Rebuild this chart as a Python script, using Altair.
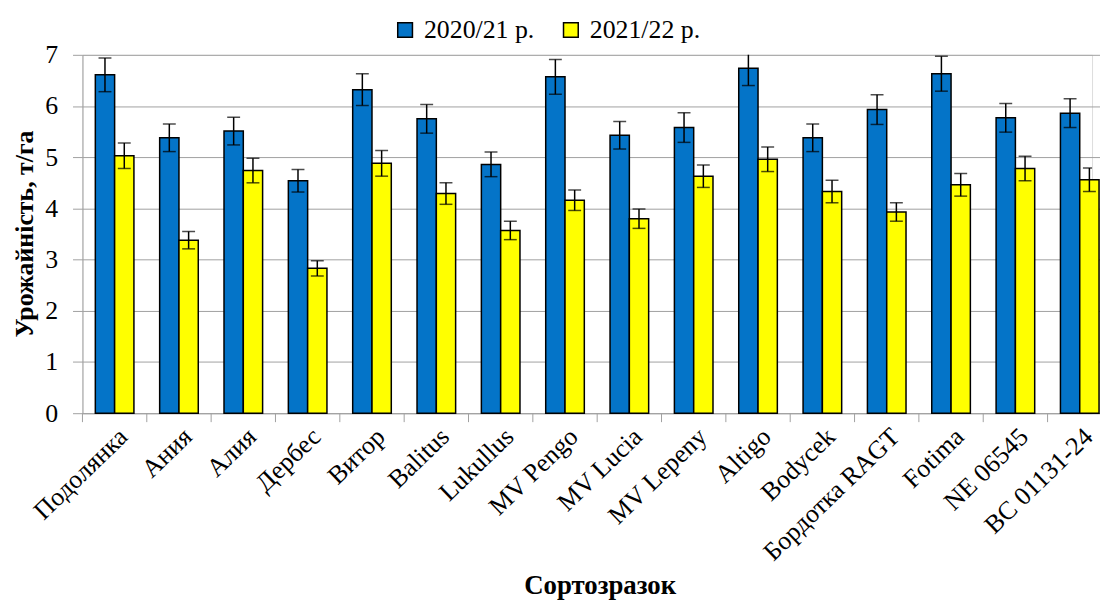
import altair as alt
import pandas as pd

cats = ["Подолянка", "Ания", "Алия", "Дербес", "Витор", "Balitus", "Lukullus",
        "MV Pengo", "MV Lucia", "MV Lepeny", "Altigo", "Bodycek", "Бордотка RAGT",
        "Fotima", "NE 06545", "BC 01131-24"]
seasons = ["2020/21 р.", "2021/22 р."]
y2021 = [6.61, 5.38, 5.51, 4.54, 6.32, 5.75, 4.86, 6.57, 5.43, 5.58, 6.74, 5.38, 5.93, 6.63, 5.77, 5.86]
e2021 = [0.33, 0.27, 0.27, 0.22, 0.31, 0.28, 0.24, 0.34, 0.27, 0.29, 0.34, 0.27, 0.29, 0.34, 0.28, 0.28]
y2022 = [5.03, 3.38, 4.74, 2.83, 4.88, 4.29, 3.57, 4.16, 3.80, 4.63, 4.96, 4.33, 3.93, 4.46, 4.78, 4.56]
e2022 = [0.25, 0.17, 0.24, 0.15, 0.25, 0.21, 0.18, 0.20, 0.19, 0.22, 0.24, 0.22, 0.18, 0.22, 0.24, 0.23]

rows = []
for i, c in enumerate(cats):
    rows.append({"cat": c, "season": seasons[0], "value": y2021[i], "err": e2021[i]})
    rows.append({"cat": c, "season": seasons[1], "value": y2022[i], "err": e2022[i]})
df = pd.DataFrame(rows)
df["lo"] = df["value"] - df["err"]
df["hi"] = df["value"] + df["err"]
df_cats = pd.DataFrame({"cat": cats})

FONT = "Liberation Serif"
GRAY = "#a0a0a0"
RANGE = [0, 1037]
FS = 26

x_axis = alt.Axis(title="Сортозразок", labelAngle=-44, labelAlign="right", labelBaseline="top",
                  labelPadding=10, labelFont=FONT, labelFontSize=FS, labelColor="black",
                  ticks=False, domainColor=GRAY, domainWidth=1, grid=False,
                  titleFont=FONT, titleFontSize=27, titleFontWeight="bold", titleColor="black",
                  titleX=521, titleY=182, titleBaseline="alphabetic", labelLimit=400)
x = alt.X("cat:N", sort=cats, axis=x_axis,
          scale=alt.Scale(range=RANGE, paddingInner=0.4, paddingOuter=0.2))
xoff = alt.XOffset("season:N", sort=seasons, scale=alt.Scale(paddingInner=0, paddingOuter=0))

y_axis = alt.Axis(title="Урожайність, т/га", values=[0, 1, 2, 3, 4, 5, 6, 7], format="d",
                  grid=True, gridColor=GRAY, gridWidth=1, domainColor=GRAY, tickColor=GRAY,
                  tickSize=10, labelPadding=15, labelFont=FONT, labelFontSize=FS, labelColor="black",
                  titleFont=FONT, titleFontSize=26, titleFontWeight="bold", titleColor="black",
                  titleX=-58, titleY=180, titleAngle=270, titleAlign="center", titleBaseline="middle")
yscale = alt.Scale(domain=[0, 7], nice=False)

bars = alt.Chart(df).mark_bar(stroke="black", strokeWidth=1.5).encode(
    x=x, xOffset=xoff,
    y=alt.Y("value:Q", scale=yscale, axis=y_axis),
    color=alt.Color("season:N", sort=seasons,
                    scale=alt.Scale(domain=seasons, range=["#0474C8", "#FFFF00"]),
                    legend=alt.Legend(title=None, orient="none", direction="horizontal",
                                      legendX=312, legendY=-38, padding=0,
                                      symbolType="square", symbolSize=220,
                                      symbolStrokeColor="black", symbolStrokeWidth=1.5,
                                      labelFont=FONT, labelFontSize=FS, labelColor="black",
                                      labelOffset=6, columnPadding=23, labelLimit=300)),
)

err = alt.Chart(df).mark_rule(color="black", strokeWidth=1.5, clip=True).encode(
    x=x, xOffset=xoff,
    y=alt.Y("lo:Q", scale=yscale, axis=y_axis), y2="hi:Q",
)
cap_hi = alt.Chart(df).mark_tick(color="black", size=13, thickness=1.5, clip=True).encode(
    x=x, xOffset=xoff, y=alt.Y("hi:Q", scale=yscale, axis=y_axis),
)
cap_lo = alt.Chart(df).mark_tick(color="black", size=13, thickness=1.5).encode(
    x=x, xOffset=xoff, y=alt.Y("lo:Q", scale=yscale, axis=y_axis),
)

xticks = alt.Chart(df_cats).mark_rule(color=GRAY, strokeWidth=1).encode(
    x=alt.X("cat:N", sort=cats, bandPosition=0, axis=None,
            scale=alt.Scale(range=RANGE, paddingInner=0, paddingOuter=0)),
    y=alt.value(361), y2=alt.value(370),
)

main = alt.layer(bars, err, cap_hi, cap_lo)
chart = alt.layer(main, xticks).resolve_scale(x="independent").properties(
    width=1017, height=361,
    autosize=alt.AutoSizeParams(type="none"),
    padding={"left": 75, "top": 45, "right": 8, "bottom": 186},
).configure_view(stroke=None).configure(background="white")

chart.save("out.html", embed_options={"renderer": "svg", "actions": False})
